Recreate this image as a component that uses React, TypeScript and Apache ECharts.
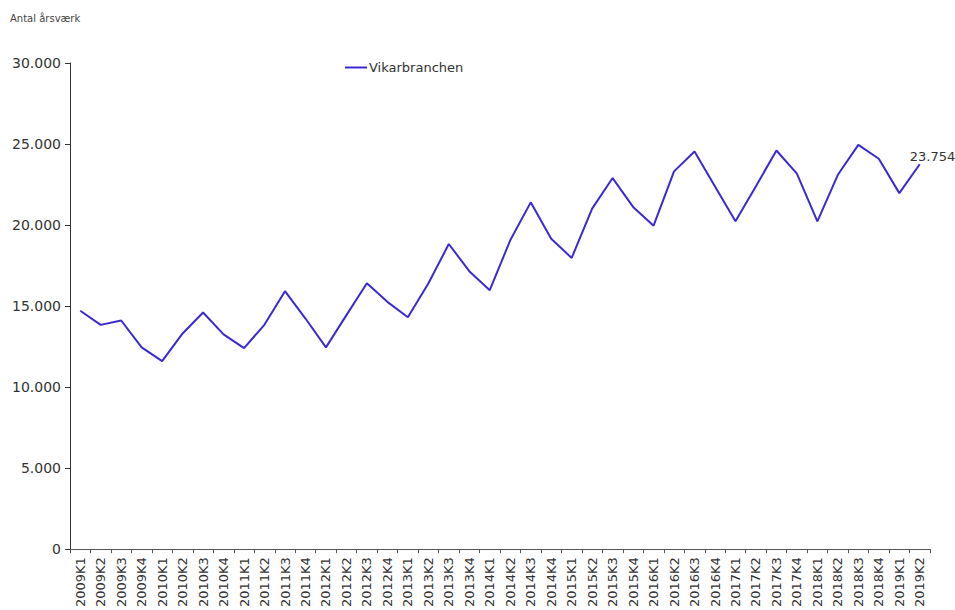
import React, { useEffect, useRef } from "react";
import * as echarts from "echarts";

const categories = [
  "2009K1","2009K2","2009K3","2009K4",
  "2010K1","2010K2","2010K3","2010K4",
  "2011K1","2011K2","2011K3","2011K4",
  "2012K1","2012K2","2012K3","2012K4",
  "2013K1","2013K2","2013K3","2013K4",
  "2014K1","2014K2","2014K3","2014K4",
  "2015K1","2015K2","2015K3","2015K4",
  "2016K1","2016K2","2016K3","2016K4",
  "2017K1","2017K2","2017K3","2017K4",
  "2018K1","2018K2","2018K3","2018K4",
  "2019K1","2019K2",
];

const vikarbranchen = [
  14710, 13840, 14110, 12450,
  11600, 13310, 14600, 13250,
  12400, 13860, 15920, 14230,
  12450, 14440, 16410, 15260,
  14310, 16390, 18830, 17150,
  15980, 19060, 21400, 19160,
  17970, 21010, 22900, 21120,
  19960, 23310, 24540, 22380,
  20230, 22400, 24600, 23170,
  20230, 23100, 24950, 24090,
  21970, 23754,
];

const seriesName = "Vikarbranchen";
const yAxisTitle = "Antal årsværk";

const FONT = "DejaVu Sans, Liberation Sans, Arial, sans-serif";

const fmt = (v: number) =>
  Math.round(v).toString().replace(/\B(?=(\d{3})+(?!\d))/g, ".");

export default function App() {
  const ref = useRef<HTMLDivElement>(null);
  useEffect(() => {
    if (!ref.current) return;
    const chart = echarts.init(ref.current, undefined, { renderer: "svg" });
    const lineColor = "#3a2ad2";
    chart.setOption({
      animation: false,
      backgroundColor: "#fff",
      textStyle: { fontFamily: FONT },
      graphic: [
        {
          type: "text",
          left: 10,
          top: 13,
          style: {
            text: yAxisTitle,
            fontSize: 10,
            fill: "#444",
            fontFamily: FONT,
          },
        },
      ],
      legend: {
        show: true,
        left: 340,
        top: 56,
        icon: "rect",
        itemWidth: 22,
        itemHeight: 2,
        itemGap: 10,
        textStyle: { fontSize: 13, color: "#333", fontFamily: FONT, padding: [0, 0, 0, -3] },
        data: [seriesName],
      },
      grid: { left: 70, right: 25, top: 63, bottom: 59, containLabel: false },
      xAxis: {
        type: "category",
        data: categories,
        boundaryGap: true,
        axisLine: { show: true, lineStyle: { color: "#555", width: 1 } },
        axisTick: { show: true, length: 4, alignWithLabel: false, lineStyle: { color: "#555" } },
        axisLabel: {
          interval: 0,
          rotate: 90,
          fontSize: 13,
          color: "#333",
          fontFamily: FONT,
          margin: 8,
        },
        splitLine: { show: false },
      },
      yAxis: {
        type: "value",
        min: 0,
        max: 30000,
        interval: 5000,
        axisLine: { show: true, lineStyle: { color: "#333", width: 1 } },
        axisTick: { show: true, length: 5, lineStyle: { color: "#333" } },
        axisLabel: {
          fontSize: 14,
          color: "#333",
          fontFamily: FONT,
          margin: 9,
          formatter: (v: number) => fmt(v),
        },
        splitLine: { show: false },
      },
      series: [
        {
          name: seriesName,
          type: "line",
          data: vikarbranchen,
          showSymbol: false,
          symbol: "none",
          lineStyle: { color: lineColor, width: 2 },
          itemStyle: { color: lineColor },
          endLabel: {
            show: true,
            distance: 5,
            offset: [-15, -8],
            formatter: (p: any) => fmt(p.value),
            color: "#333",
            fontSize: 13,
            fontFamily: FONT,
          },
        },
      ],
    });
    return () => chart.dispose();
  }, []);
  return (
    <div
      ref={ref}
      style={{ position: "absolute", left: 0, top: 0, width: 955, height: 610 }}
    />
  );
}
